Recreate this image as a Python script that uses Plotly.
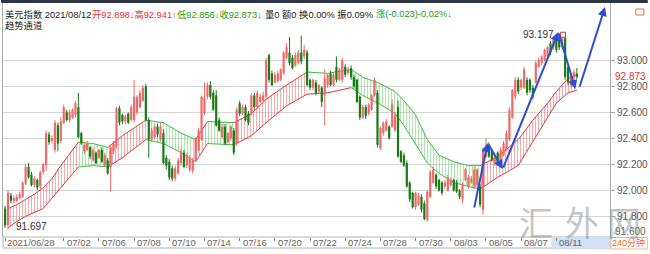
import plotly.graph_objects as go

# ---------------- data ----------------
opens = [91.86,91.73,91.96,91.92,91.92,91.94,91.95,92.05,92.18,92.12,
         92.04,92.08,92.03,92.14,92.19,92.43,92.38,92.31,92.50,92.38,
         92.52,92.60,92.54,92.56,92.58,92.64,92.44,92.30,92.31,92.33,
         92.23,92.29,92.25,92.31,92.19,92.23,92.18,92.30,92.34,92.63,
         92.58,92.53,92.59,92.54,92.54,92.60,92.64,92.69,92.80,92.54,
         92.39,92.41,92.49,92.39,92.44,92.25,92.22,92.17,92.09,92.13,
         92.21,92.29,92.19,92.16,92.15,92.23,92.31,92.39,92.59,92.72,
         92.81,92.75,92.73,92.54,92.41,92.49,92.37,92.40,92.46,92.36,
         92.67,92.59,92.64,92.59,92.59,92.73,92.64,92.68,92.69,92.72,
         93.04,92.90,92.83,92.84,92.85,92.90,93.02,93.06,93.02,92.96,
         92.98,93.06,93.03,93.06,92.85,92.79,92.83,92.76,92.79,92.73,
         92.81,92.90,92.81,92.95,92.85,92.85,92.95,92.90,92.94,92.87,
         92.85,92.72,92.56,92.64,92.59,92.62,92.73,92.75,92.32,92.44,
         92.46,92.49,92.49,92.46,92.64,92.30,92.27,92.21,92.06,91.98,
         91.87,91.89,91.95,91.90,91.77,91.95,92.06,92.12,92.08,92.06,
         92.03,92.00,92.04,92.08,92.06,92.00,91.93,92.08,92.03,92.06,
         92.03,92.04,92.03,91.85,92.26,92.35,92.31,92.21,92.29,92.21,
         92.27,92.31,92.39,92.56,92.72,92.85,92.79,92.79,92.85,92.85,
         92.79,92.83,92.95,92.98,93.00,93.03,93.13,93.10,93.16,93.17,
         93.10,93.17,92.95,92.81,92.87,92.898]
highs = [91.88,92.00,91.98,91.96,91.97,91.99,92.07,92.20,92.21,92.14,
         92.11,92.09,92.15,92.21,92.46,92.45,92.42,92.54,92.52,92.56,
         92.66,92.62,92.62,92.63,92.69,92.75,92.45,92.37,92.38,92.34,
         92.33,92.30,92.32,92.33,92.29,92.25,92.35,92.38,92.64,92.65,
         92.59,92.58,92.60,92.66,92.85,92.73,92.77,92.81,92.82,92.56,
         92.48,92.50,92.51,92.52,92.47,92.27,92.24,92.19,92.19,92.25,
         92.32,92.31,92.29,92.27,92.25,92.41,92.48,92.73,92.83,92.83,
         92.84,92.77,92.77,92.56,92.51,92.51,92.45,92.50,92.48,92.64,
         92.69,92.66,92.66,92.61,92.75,92.75,92.77,92.74,92.76,93.02,
         93.05,92.92,92.91,92.92,92.94,93.07,93.13,93.18,93.04,93.06,
         93.08,93.19,93.12,93.08,92.86,92.86,92.85,92.82,92.80,92.93,
         92.90,92.92,92.91,93.03,92.94,93.02,92.97,92.95,92.96,92.89,
         92.86,92.73,92.66,92.66,92.67,92.74,92.87,92.77,92.49,92.53,
         92.55,92.50,92.70,92.60,92.69,92.31,92.29,92.23,92.07,91.99,
         91.99,91.98,91.97,91.92,92.00,92.16,92.18,92.13,92.09,92.07,
         92.08,92.12,92.10,92.09,92.08,92.01,92.06,92.17,92.12,92.11,
         92.18,92.17,92.05,92.33,92.40,92.37,92.32,92.29,92.30,92.33,
         92.38,92.46,92.64,92.78,92.87,92.87,92.86,92.95,92.87,92.86,
         92.81,93.00,93.02,93.04,93.09,93.11,93.15,93.17,93.18,93.197,
         93.18,93.18,92.96,92.90,92.93,92.941]
lows = [91.71,91.697,91.90,91.90,91.91,91.93,91.94,92.04,92.09,92.03,
        92.02,92.00,92.01,92.12,92.15,92.35,92.36,92.29,92.30,92.36,
        92.51,92.53,92.52,92.55,92.56,92.40,92.35,92.28,92.30,92.24,
        92.22,92.20,92.24,92.21,92.18,92.12,91.99,92.28,92.32,92.50,
        92.51,92.51,92.51,92.53,92.52,92.58,92.63,92.68,92.53,92.25,
        92.37,92.40,92.41,92.38,92.20,92.16,92.08,92.07,92.07,92.12,
        92.19,92.17,92.17,92.14,92.13,92.22,92.30,92.38,92.58,92.70,
        92.70,92.61,92.49,92.45,92.40,92.35,92.36,92.38,92.27,92.34,
        92.57,92.58,92.53,92.50,92.58,92.62,92.63,92.67,92.68,92.70,
        92.83,92.80,92.82,92.83,92.84,92.89,93.01,92.96,92.93,92.95,
        92.97,92.97,93.01,92.80,92.77,92.77,92.73,92.74,92.64,92.50,
        92.79,92.80,92.80,92.83,92.84,92.83,92.87,92.89,92.85,92.78,
        92.67,92.54,92.55,92.55,92.58,92.61,92.72,92.33,92.31,92.42,
        92.45,92.39,92.48,92.45,92.25,92.21,92.18,92.02,91.91,91.86,
        91.85,91.88,91.83,91.77,91.76,91.94,92.05,92.01,91.99,91.96,
        92.01,91.99,92.03,91.99,91.98,91.93,91.90,92.07,92.01,92.05,
        92.01,92.02,91.87,91.81,92.25,92.25,92.22,92.19,92.19,92.19,
        92.26,92.30,92.38,92.55,92.70,92.74,92.77,92.78,92.73,92.75,
        92.70,92.82,92.94,92.96,92.99,93.02,93.04,93.08,93.06,93.08,
        93.08,92.85,92.81,92.79,92.86,92.856]
closes = [91.73,91.98,91.92,91.94,91.95,91.97,92.06,92.18,92.10,92.04,
          92.09,92.02,92.14,92.20,92.44,92.37,92.40,92.52,92.36,92.53,
          92.64,92.54,92.60,92.62,92.67,92.41,92.36,92.35,92.36,92.26,
          92.31,92.21,92.31,92.22,92.27,92.13,92.33,92.36,92.63,92.52,
          92.53,92.57,92.52,92.64,92.72,92.72,92.75,92.79,92.54,92.39,
          92.46,92.49,92.43,92.49,92.21,92.19,92.10,92.09,92.17,92.23,
          92.30,92.18,92.27,92.25,92.23,92.39,92.46,92.72,92.71,92.81,
          92.72,92.62,92.50,92.46,92.49,92.36,92.44,92.49,92.29,92.62,
          92.59,92.64,92.54,92.52,92.73,92.64,92.75,92.72,92.73,93.00,
          92.85,92.81,92.89,92.90,92.93,93.06,93.10,92.98,92.94,93.04,
          93.06,92.99,93.08,92.81,92.79,92.85,92.75,92.81,92.68,92.86,
          92.89,92.81,92.89,92.85,92.93,93.00,92.89,92.93,92.87,92.80,
          92.68,92.56,92.64,92.57,92.66,92.73,92.85,92.35,92.48,92.52,
          92.53,92.40,92.66,92.58,92.26,92.22,92.19,92.03,91.93,91.87,
          91.98,91.96,91.85,91.78,91.99,92.14,92.16,92.03,92.00,91.98,
          92.06,92.10,92.08,92.00,91.99,91.95,92.04,92.16,92.10,92.09,
          92.16,92.16,91.89,92.31,92.33,92.26,92.23,92.27,92.21,92.31,
          92.36,92.44,92.62,92.77,92.85,92.76,92.85,92.93,92.75,92.77,
          92.72,92.98,93.00,93.03,93.08,93.10,93.06,93.16,93.08,93.10,
          93.17,92.87,92.83,92.89,92.91,92.873]

tick_idx = [0, 20, 32, 44, 56, 68, 80, 92, 104, 116, 128, 140, 152, 164, 176, 188]
tick_text = ["2021/06/28", "07/02", "07/06", "07/08", "07/10", "07/14", "07/16", "07/20",
             "07/22", "07/24", "07/28", "07/30", "08/03", "08/05", "08/07", "08/11"]

# trend-channel band (knots)
band_idx = [1, 4, 7, 10, 13, 16, 19, 22, 25, 30, 35, 40, 44, 48, 54, 60, 65, 69, 78,
            84, 89, 96, 103, 110, 118, 122, 128, 133, 136, 140, 144, 148, 153, 158, 162,
            168, 175, 180, 185, 188, 192, 195]
band_upper = [91.86, 91.89, 91.93, 91.97, 92.02, 92.09, 92.19, 92.28, 92.37, 92.36, 92.33,
              92.42, 92.48, 92.54, 92.52, 92.44, 92.39, 92.53, 92.52, 92.59, 92.70, 92.81,
              92.91, 92.90, 92.93, 92.87, 92.82, 92.76, 92.69, 92.58, 92.39, 92.27, 92.22,
              92.19, 92.19, 92.26, 92.39, 92.54, 92.67, 92.76, 92.86, 92.89]
band_lower = [91.71, 91.76, 91.80, 91.83, 91.86, 91.94, 92.02, 92.10, 92.18, 92.19, 92.18,
              92.25, 92.32, 92.39, 92.36, 92.29, 92.22, 92.36, 92.35, 92.42, 92.52, 92.65,
              92.74, 92.75, 92.79, 92.73, 92.66, 92.59, 92.50, 92.36, 92.21, 92.13, 92.06,
              92.03, 92.01, 92.10, 92.19, 92.38, 92.56, 92.67, 92.75, 92.77]
band_segments = [("up", 1, 25), ("down", 25, 35), ("up", 35, 48), ("down", 48, 65),
                 ("up", 65, 69), ("down", 69, 78), ("up", 78, 103), ("flat", 103, 118),
                 ("down", 118, 162), ("up", 162, 195)]

y_ticks = [91.8, 92.0, 92.2, 92.4, 92.6, 92.8, 93.0]

trend_path1 = [(159.9, 91.856), (164.6, 92.364), (169.7, 92.164), (188.7, 93.218), (194.5, 92.779)]
trend_path2 = [(195.8, 92.787), (204.6, 93.410)]

header_parts = [("美元指数 2021/08/12", "#222222", 2),
                ("开92.898↓高92.941↑", "#f03232", 89),
                ("低92.856↓收92.873↓", "#22a022", 175),
                ("量0 额0 换0.00% 振0.09%", "#222222", 263),
                ("涨(-0.023)-0.02%↓", "#22a022", 375)]

# ---------------- layout geometry ----------------
W, H = 650, 254
L, R, T, B = 2, 38, 3, 17
PW, PH = W - L - R, H - T - B
FONT = "Liberation Sans, Arial, Noto Sans CJK SC, sans-serif"


def px(x):
    return (x - L) / PW


def py(y):
    return (H - B - y) / PH


RED_BODY = "#f06a6a"
GREEN_BODY = "#1a7a1a"
RED_BAND = "#e03a3a"
GREEN_BAND = "#3cc03c"

fig = go.Figure()

# --- band ---
for kind, s, e in band_segments:
    sel = [k for k, i in enumerate(band_idx) if s <= i <= e]
    xs = [band_idx[k] for k in sel]
    up = [band_upper[k] for k in sel]
    lo = [band_lower[k] for k in sel]
    if kind == "up":
        lc, uc, hc = RED_BAND, RED_BAND, "#ee5a5a"
    elif kind == "down":
        lc, uc, hc = GREEN_BAND, GREEN_BAND, "#5ad05a"
    else:
        lc, uc, hc = RED_BAND, GREEN_BAND, None
    fig.add_trace(go.Scatter(x=xs, y=lo, mode="lines", line=dict(color=lc, width=1),
                             hoverinfo="skip", showlegend=False))
    if hc:
        fig.add_trace(go.Scatter(x=xs, y=up, mode="lines", line=dict(color=uc, width=1),
                                 fill="tonexty", fillcolor="rgba(0,0,0,0)",
                                 fillpattern=dict(shape="|", fgcolor=hc, bgcolor="rgba(255,255,255,0)",
                                                  size=3, solidity=0.34),
                                 hoverinfo="skip", showlegend=False))
    else:
        fig.add_trace(go.Scatter(x=xs, y=up, mode="lines", line=dict(color=uc, width=1),
                                 hoverinfo="skip", showlegend=False))

# --- candles ---
n = len(closes)
for is_up, col in ((True, RED_BODY), (False, GREEN_BODY)):
    wx, wy, bx, by = [], [], [], []
    for i in range(n):
        o, h, l, c = opens[i], highs[i], lows[i], closes[i]
        if (c >= o) != is_up:
            continue
        wx += [i, i, None]
        wy += [l, h, None]
        lo_b, hi_b = min(o, c), max(o, c)
        if hi_b - lo_b < 0.006:
            m = (hi_b + lo_b) / 2
            lo_b, hi_b = m - 0.003, m + 0.003
        bx += [i, i, None]
        by += [lo_b, hi_b, None]
    fig.add_trace(go.Scatter(x=wx, y=wy, mode="lines", line=dict(color=col, width=1),
                             hoverinfo="skip", showlegend=False))
    fig.add_trace(go.Scatter(x=bx, y=by, mode="lines", line=dict(color=col, width=2.2),
                             hoverinfo="skip", showlegend=False))

# --- high / low markers ---
hi_i = max(range(n), key=lambda k: highs[k])
lo_i = min(range(n), key=lambda k: lows[k])
fig.add_trace(go.Scatter(x=[hi_i + 1.3], y=[highs[hi_i]], mode="markers",
                         marker=dict(symbol="square-open", size=5, color="#e03030", line=dict(width=1)),
                         hoverinfo="skip", showlegend=False))

annotations = []
annotations.append(dict(x=hi_i, y=highs[hi_i], xref="x", yref="y", text=f"{highs[hi_i]:.3f}",
                        showarrow=False, xanchor="right", yanchor="middle", xshift=-3,
                        font=dict(family=FONT, size=10, color="#333333")))
annotations.append(dict(x=lo_i, y=lows[lo_i], xref="x", yref="y", text=f"{lows[lo_i]:.3f}",
                        showarrow=False, xanchor="left", yanchor="middle", xshift=6, yshift=3,
                        font=dict(family=FONT, size=10, color="#333333")))

# --- trend arrows ---
for path in (trend_path1, trend_path2):
    for (x0, y0), (x1, y1) in zip(path[:-1], path[1:]):
        annotations.append(dict(x=x1, y=y1, ax=x0, ay=y0, xref="x", yref="y", axref="x", ayref="y",
                                showarrow=True, arrowhead=2, arrowsize=0.9, arrowwidth=2,
                                arrowcolor="#2a4fd0", text="", standoff=0, startstandoff=0))

# --- header ---
for txt, col, x in header_parts:
    annotations.append(dict(x=px(x), y=py(14), xref="paper", yref="paper", text=txt,
                            showarrow=False, xanchor="left", yanchor="middle",
                            font=dict(family=FONT, size=9.3, color=col)))
annotations.append(dict(x=px(2), y=py(25), xref="paper", yref="paper", text="趋势通道",
                        showarrow=False, xanchor="left", yanchor="middle",
                        font=dict(family=FONT, size=9.3, color="#222222")))

# --- x axis strip labels ---
for i, t in zip(tick_idx, tick_text):
    annotations.append(dict(x=i, y=py(242.5), xref="x", yref="paper", text=t, showarrow=False,
                            xanchor="left", yanchor="middle", xshift=(0 if i == 0 else 1),
                            font=dict(family=FONT, size=9.5, color="#666666")))

# current price label and clamped bottom label
annotations.append(dict(x=px(615), y=closes[-1], xref="paper", yref="y", text=f"{closes[-1]:.3f}",
                        showarrow=False, xanchor="left", yanchor="middle",
                        font=dict(family=FONT, size=10, color="#f03232")))
annotations.append(dict(x=px(615), y=py(231), xref="paper", yref="paper", text="91.600",
                        showarrow=False, xanchor="left", yanchor="middle",
                        font=dict(family=FONT, size=10, color="#666666")))
annotations.append(dict(x=px(631), y=py(243), xref="paper", yref="paper", text="240分钟",
                        showarrow=False, xanchor="center", yanchor="middle",
                        font=dict(family=FONT, size=9, color="#e8701e")))

# watermark
for ch, cx in (("汇", 538), ("外", 584), ("网", 626)):
    annotations.append(dict(x=px(cx), y=py(221), xref="paper", yref="paper", text=ch,
                            showarrow=False, xanchor="center", yanchor="middle",
                            font=dict(family="Noto Sans CJK SC", size=34, color="rgba(140,140,140,0.5)")))

shapes = [
    # top toolbar strip
    dict(type="rect", xref="paper", yref="paper", x0=px(0), x1=px(W), y0=py(3), y1=py(0),
         fillcolor="#2d3544", line=dict(width=0), layer="below"),
    # x-axis strip
    dict(type="rect", xref="paper", yref="paper", x0=px(2), x1=px(612), y0=py(248), y1=py(237),
         fillcolor="white", line=dict(color="#b4b4b4", width=1), layer="below"),
    dict(type="rect", xref="paper", yref="paper", x0=px(553), x1=px(612), y0=py(248), y1=py(237.5),
         fillcolor="#cfe2f8", line=dict(width=0), layer="below"),
    # period box
    dict(type="rect", xref="paper", yref="paper", x0=px(613), x1=px(649.5), y0=py(249), y1=py(237.5),
         fillcolor="white", line=dict(color="#f0b888", width=1), layer="below"),
    # small icon top right
    dict(type="rect", xref="paper", yref="paper", x0=px(638), x1=px(646), y0=py(15), y1=py(9),
         fillcolor="rgba(0,0,0,0)", line=dict(color="#f06a40", width=1)),
]

fig.update_layout(
    width=W, height=H, margin=dict(l=L, r=R, t=T, b=B, pad=0),
    paper_bgcolor="white", plot_bgcolor="white", showlegend=False,
    annotations=annotations, shapes=shapes,
    xaxis=dict(range=[-0.71, 206.3], tickvals=tick_idx, ticks="outside", ticklen=3,
               tickcolor="#888888", showticklabels=False, showgrid=False, zeroline=False,
               showline=False, fixedrange=True),
    yaxis=dict(side="right", range=[91.641, 93.441], tickvals=y_ticks,
               ticktext=[f"{v:.3f}" for v in y_ticks], showgrid=True, gridcolor="#d6d6d6",
               gridwidth=1, ticks="outside", ticklen=4, tickcolor="#aaaaaa", showline=True,
               linecolor="#aaaaaa", mirror=True, zeroline=False, fixedrange=True,
               tickfont=dict(family=FONT, size=10, color="#555555")),
)

fig.write_html("out.html")
